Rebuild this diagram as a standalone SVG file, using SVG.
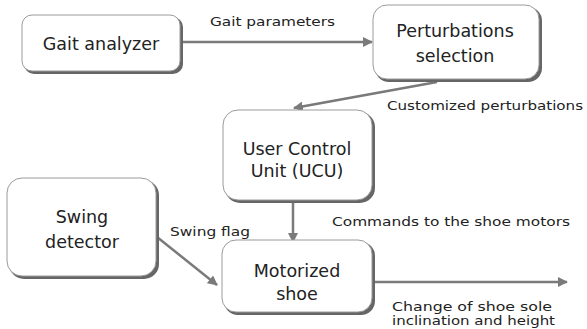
<svg xmlns="http://www.w3.org/2000/svg" width="587" height="329" viewBox="0 0 587 329">
<style>
.box{fill:#fff;stroke:#9a9a9a;stroke-width:1}
.sh{fill:#666}
.bt{font-family:"DejaVu Sans",sans-serif;font-size:17.5px;fill:#222;text-anchor:middle}
.lb{font-family:"DejaVu Sans",sans-serif;font-size:12px;fill:#222}
.ln{stroke:#7a7a7a;stroke-width:2.5;fill:none;marker-end:url(#ah)}
</style>
<defs>
<marker id="ah" viewBox="0 0 10 10" refX="9" refY="5" markerWidth="4" markerHeight="4" markerUnits="strokeWidth" orient="auto">
<path d="M0,0 L10,5 L0,10 z" fill="#7a7a7a"/>
</marker>
</defs>
<rect width="587" height="329" fill="#fff"/>
<g id="connectors">
<line class="ln" x1="182" y1="42" x2="372" y2="42"/>
<line class="ln" x1="437" y1="82" x2="294" y2="108"/>
<line class="ln" x1="293" y1="203" x2="293" y2="242"/>
<line class="ln" x1="157" y1="237" x2="217" y2="285"/>
<line class="ln" x1="374" y1="282" x2="567" y2="282"/>
<text class="lb" x="210" y="26" textLength="125" lengthAdjust="spacingAndGlyphs">Gait parameters</text>
<text class="lb" x="387" y="110" textLength="196" lengthAdjust="spacingAndGlyphs">Customized perturbations</text>
<text class="lb" x="332" y="226" textLength="238" lengthAdjust="spacingAndGlyphs">Commands to the shoe motors</text>
<text class="lb" x="170" y="236" textLength="80" lengthAdjust="spacingAndGlyphs">Swing flag</text>
<text class="lb" x="392" y="311" textLength="160" lengthAdjust="spacingAndGlyphs">Change of shoe sole</text>
<text class="lb" x="392" y="325" textLength="163" lengthAdjust="spacingAndGlyphs">inclination and height</text>
</g>
<g id="gait">
<rect class="sh" x="24" y="17" width="159" height="57" rx="10"/>
<rect class="box" x="22" y="15" width="158" height="56" rx="10"/>
<text class="bt" x="101" y="50">Gait analyzer</text>
</g>
<g id="perturb">
<rect class="sh" x="375" y="7" width="167" height="75" rx="14"/>
<rect class="box" x="373" y="5" width="166" height="74" rx="14"/>
<text class="bt" x="455" y="37">Perturbations</text>
<text class="bt" x="455" y="62">selection</text>
</g>
<g id="ucu">
<rect class="sh" x="225" y="112" width="150" height="91" rx="15"/>
<rect class="box" x="223" y="110" width="149" height="90" rx="15"/>
<text class="bt" x="297" y="155">User Control</text>
<text class="bt" x="297" y="177">Unit (UCU)</text>
</g>
<g id="swing">
<rect class="sh" x="9" y="180" width="150" height="99" rx="15"/>
<rect class="box" x="7" y="178" width="149" height="98" rx="15"/>
<text class="bt" x="82" y="223">Swing</text>
<text class="bt" x="82" y="248">detector</text>
</g>
<g id="shoe">
<rect class="sh" x="224" y="242" width="151" height="73" rx="14"/>
<rect class="box" x="222" y="240" width="150" height="72" rx="14"/>
<text class="bt" x="297" y="277">Motorized</text>
<text class="bt" x="297" y="300">shoe</text>
</g>
</svg>
